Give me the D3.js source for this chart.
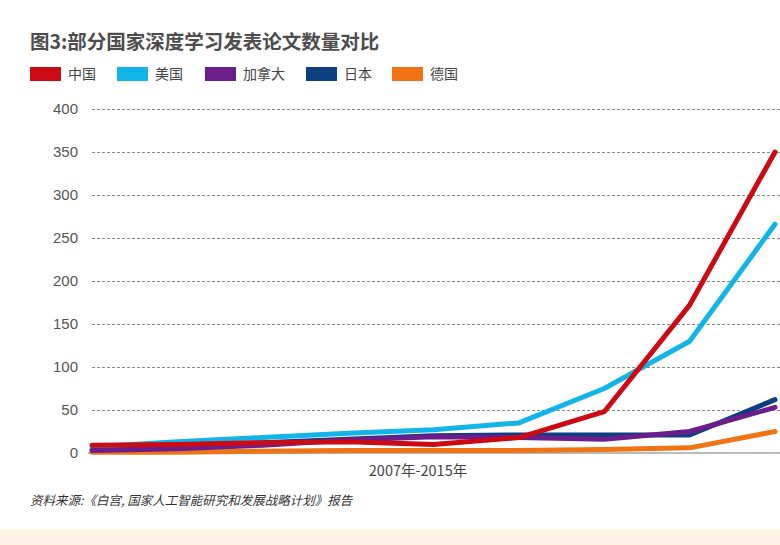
<!DOCTYPE html>
<html><head><meta charset="utf-8">
<script src="https://cdn.jsdelivr.net/npm/d3@7"></script>
<style>
html,body{margin:0;padding:0;background:#fff;}
svg{display:block;}
</style></head>
<body>
<script>
const years = [2007, 2008, 2009, 2010, 2011, 2012, 2013, 2014, 2015];
const countries = ["中国", "美国", "加拿大", "日本", "德国"];
const colors = ["#cc0a14", "#12b5e8", "#6b1d8c", "#0b3f82", "#f07414"];
const china = [9, 10, 12, 13, 10, 18, 48, 172, 350];
const usa = [7, 13, 18, 23, 27, 35, 75, 130, 266];
const canada = [3, 5, 9, 15, 19, 18, 16, 25, 53];
const japan = [4, 8, 12, 16, 20, 21, 21, 21, 62];
const germany = [1, 1, 2, 3, 3, 3, 4, 6, 25];
const yTicks = [0, 50, 100, 150, 200, 250, 300, 350, 400];
const title = "图3:部分国家深度学习发表论文数量对比";
const xLabel = "2007年-2015年";
const source = "资料来源:《白宫, 国家人工智能研究和发展战略计划》报告";

const W = 780, H = 545;
const svg = d3.select("body").append("svg").attr("width", W).attr("height", H);
const font = "'Noto Sans CJK SC', 'Liberation Sans', sans-serif";

// bottom band
svg.append("rect").attr("x", 0).attr("y", 530).attr("width", W).attr("height", 15).attr("fill", "#fcf3e4");

const x = d3.scalePoint().domain(years).range([92, 775]);
const y = d3.scaleLinear().domain([0, 400]).range([453, 109]);

// grid
const gridAxis = d3.axisLeft(y).tickValues(yTicks).tickSize(0).tickPadding(14);
const gy = svg.append("g").attr("transform", "translate(92,0)").call(gridAxis);
gy.select(".domain").remove();
gy.selectAll("text").attr("font-family", "'Liberation Sans', Arial, sans-serif").attr("font-size", 15).attr("fill", "#555");
gy.selectAll(".tick").filter(d => d !== 0).append("line")
  .attr("x1", 0).attr("x2", W - 92).attr("stroke", "#888").attr("stroke-width", 1).attr("stroke-dasharray", "3,2");

// baseline
svg.append("line").attr("x1", 88).attr("x2", W).attr("y1", y(0)).attr("y2", y(0)).attr("stroke", "#777").attr("stroke-width", 1);

const series = [china, usa, canada, japan, germany];
const line = d3.line().x((d, i) => x(years[i])).y(d => y(d));
// draw order: germany, japan, canada, usa, china? choose order similar to picture
const order = [4, 3, 1, 2, 0];
order.forEach(k => {
  svg.append("path").datum(series[k]).attr("d", line)
    .attr("fill", "none").attr("stroke", colors[k]).attr("stroke-width", 5)
    .attr("stroke-linejoin", "round").attr("stroke-linecap", "round");
});

// title
svg.append("text").attr("x", 30).attr("y", 49).text(title)
  .attr("font-family", font).attr("font-weight", "bold").attr("font-size", 19.5).attr("fill", "#4d4d4d");

// legend
const legX = [30, 117, 205, 306, 392];
countries.forEach((c, i) => {
  svg.append("rect").attr("x", legX[i]).attr("y", 67).attr("width", 31).attr("height", 14).attr("fill", colors[i]);
  svg.append("text").attr("x", legX[i] + 38).attr("y", 79).text(c)
    .attr("font-family", font).attr("font-size", 14).attr("fill", "#444");
});

// x label
svg.append("text").attr("x", 418).attr("y", 476).attr("text-anchor", "middle").text(xLabel)
  .attr("font-family", font).attr("font-size", 14.5).attr("fill", "#444");

// source
svg.append("text").attr("x", 30).attr("y", 505).text(source)
  .attr("font-family", font).attr("font-style", "italic").attr("font-size", 12.5).attr("fill", "#333");
</script>
</body></html>
